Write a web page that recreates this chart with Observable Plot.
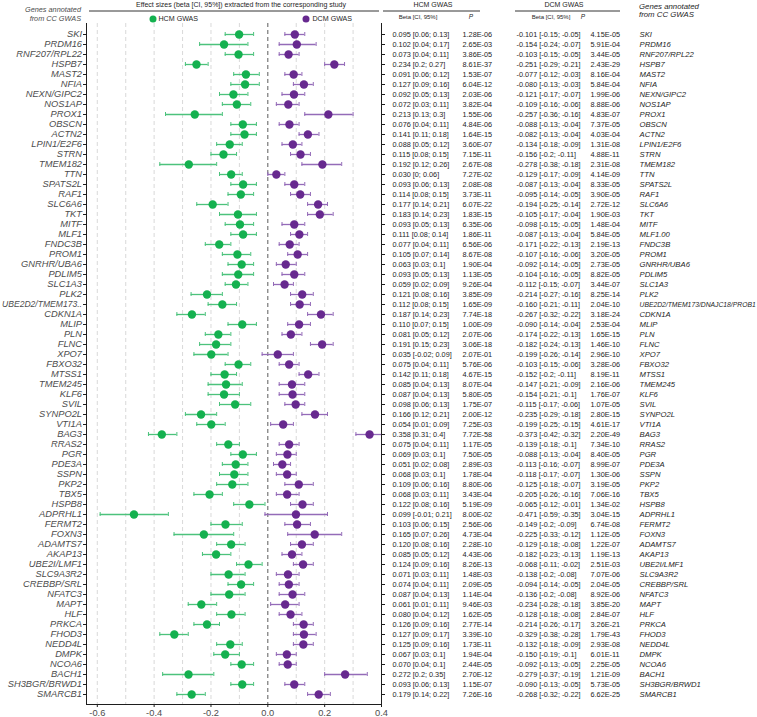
<!DOCTYPE html>
<html>
<head>
<meta charset="utf-8">
<script src="https://cdn.jsdelivr.net/npm/d3@7"></script>
<script src="https://cdn.jsdelivr.net/npm/@observablehq/plot@0.6"></script>
<style>
  body { margin: 0; background: #fff; }
  #fig { width: 757px; height: 717px; overflow: hidden; }
  #fig svg { display: block; overflow: visible; }
</style>
</head>
<body>
<div id="fig"></div>
<script>
// Gene labels on the forest axis (top to bottom)
const genes = [
  "SKI","PRDM16","RNF207/RPL22","HSPB7","MAST2","NFIA","NEXN/GIPC2","NOS1AP","PROX1","OBSCN",
  "ACTN2","LPIN1/E2F6","STRN","TMEM182","TTN","SPATS2L","RAF1","SLC6A6","TKT","MITF",
  "MLF1","FNDC3B","PROM1","GNRHR/UBA6","PDLIM5","SLC1A3","PLK2","UBE2D2/TMEM173..","CDKN1A","MLIP",
  "PLN","FLNC","XPO7","FBXO32","MTSS1","TMEM245","KLF6","SVIL","SYNPO2L","VTI1A",
  "BAG3","RRAS2","PGR","PDE3A","SSPN","PKP2","TBX5","HSPB8","ADPRHL1","FERMT2",
  "FOXN3","ADAMTS7","AKAP13","UBE2I/LMF1","SLC9A3R2","CREBBP/SRL","NFATC3","MAPT","HLF","PRKCA",
  "FHOD3","NEDD4L","DMPK","NCOA6","BACH1","SH3BGR/BRWD1","SMARCB1"
];
// Gene names in the right-hand table column
const genesAnnotated = [
  "SKI","PRDM16","RNF207/RPL22","HSPB7","MAST2","NFIA","NEXN/GIPC2","NOS1AP","PROX1","OBSCN",
  "ACTN2","LPIN1/E2F6","STRN","TMEM182","TTN","SPATS2L","RAF1","SLC6A6","TKT","MITF",
  "MLF1.00","FNDC3B","PROM1","GNRHR/UBA6","PDLIM5","SLC1A3","PLK2","UBE2D2/TMEM173/DNAJC18/PROB1","CDKN1A","MLIP",
  "PLN","FLNC","XPO7","FBXO32","MTSS1","TMEM245","KLF6","SVIL","SYNPO2L","VTI1A",
  "BAG3","RRAS2","PGR","PDE3A","SSPN","PKP2","TBX5","HSPB8","ADPRHL1","FERMT2",
  "FOXN3","ADAMTS7","AKAP13","UBE2I/LMF1","SLC9A3R2","CREBBP/SRL","NFATC3","MAPT","HLF","PRKCA",
  "FHOD3","NEDD4L","DMPK","NCOA6","BACH1","SH3BGR/BRWD1","SMARCB1"
];

// HCM GWAS: beta, 95% CI bounds, P
const hcmBeta = [
  0.095,0.102,0.073,0.234,0.091,0.127,0.092,0.072,0.213,0.076,
  0.141,0.088,0.115,0.192,0.030,0.093,0.114,0.177,0.183,0.093,
  0.111,0.077,0.105,0.063,0.093,0.059,0.121,0.112,0.187,0.110,
  0.081,0.191,0.035,0.075,0.142,0.085,0.087,0.098,0.166,0.054,
  0.358,0.075,0.069,0.051,0.068,0.109,0.068,0.122,0.099,0.103,
  0.165,0.120,0.085,0.124,0.071,0.074,0.087,0.061,0.080,0.126,
  0.127,0.125,0.067,0.070,0.272,0.093,0.179
];
const hcmLo = [
  0.06,0.04,0.04,0.2,0.06,0.09,0.05,0.03,0.13,0.04,
  0.11,0.05,0.08,0.12,0,0.06,0.08,0.14,0.14,0.05,
  0.08,0.04,0.07,0.03,0.05,0.02,0.08,0.08,0.14,0.07,
  0.05,0.15,-0.02,0.04,0.11,0.04,0.04,0.06,0.12,0.01,
  0.31,0.04,0.03,0.02,0.03,0.06,0.03,0.08,-0.01,0.06,
  0.07,0.08,0.05,0.09,0.03,0.04,0.04,0.01,0.04,0.09,
  0.09,0.09,0.03,0.04,0.2,0.06,0.14
];
const hcmHi = [
  0.13,0.17,0.11,0.27,0.12,0.16,0.13,0.11,0.3,0.11,
  0.18,0.12,0.15,0.26,0.06,0.13,0.15,0.21,0.23,0.13,
  0.14,0.11,0.14,0.1,0.13,0.09,0.16,0.15,0.23,0.15,
  0.12,0.23,0.09,0.11,0.18,0.13,0.13,0.13,0.21,0.09,
  0.4,0.11,0.1,0.08,0.1,0.16,0.11,0.16,0.21,0.15,
  0.26,0.16,0.12,0.16,0.11,0.11,0.13,0.11,0.12,0.16,
  0.17,0.16,0.1,0.1,0.35,0.13,0.22
];
const hcmP = [
  1.28e-6,2.65e-3,3.86e-5,8.61e-37,1.53e-7,6.04e-12,2.03e-6,3.82e-4,1.55e-6,4.84e-6,
  1.64e-15,3.60e-7,7.15e-11,2.67e-8,7.27e-2,2.08e-8,3.73e-11,6.07e-22,1.83e-15,6.35e-6,
  1.86e-11,6.56e-6,8.67e-8,1.90e-4,1.13e-5,9.26e-4,3.85e-9,1.65e-9,7.74e-18,1.00e-9,
  2.07e-6,3.06e-18,2.07e-1,5.76e-6,4.67e-15,8.07e-4,5.80e-5,1.75e-7,2.00e-12,7.25e-3,
  7.72e-58,1.17e-5,7.50e-5,2.89e-3,1.78e-4,8.80e-6,3.43e-4,5.19e-9,8.00e-2,2.56e-6,
  4.73e-4,2.28e-10,4.43e-6,8.26e-13,1.48e-3,2.09e-5,1.14e-4,9.46e-3,1.62e-5,2.77e-14,
  3.39e-10,1.73e-11,1.94e-4,2.44e-5,2.70e-12,1.15e-7,7.26e-16
];

// DCM GWAS: beta, 95% CI bounds, P
const dcmBeta = [
  -0.101,-0.154,-0.103,-0.251,-0.077,-0.080,-0.121,-0.109,-0.257,-0.088,
  -0.082,-0.134,-0.156,-0.278,-0.129,-0.087,-0.095,-0.194,-0.105,-0.098,
  -0.087,-0.171,-0.107,-0.092,-0.104,-0.112,-0.214,-0.160,-0.267,-0.090,
  -0.174,-0.182,-0.199,-0.103,-0.152,-0.147,-0.154,-0.115,-0.235,-0.199,
  -0.373,-0.139,-0.088,-0.113,-0.118,-0.125,-0.205,-0.065,-0.471,-0.149,
  -0.225,-0.129,-0.182,-0.068,-0.138,-0.094,-0.136,-0.234,-0.128,-0.214,
  -0.329,-0.132,-0.150,-0.092,-0.279,-0.090,-0.268
];
const dcmLo = [
  -0.15,-0.24,-0.15,-0.29,-0.12,-0.13,-0.17,-0.16,-0.36,-0.13,
  -0.13,-0.18,-0.2,-0.38,-0.17,-0.13,-0.14,-0.25,-0.17,-0.15,
  -0.13,-0.22,-0.16,-0.14,-0.16,-0.15,-0.27,-0.21,-0.32,-0.14,
  -0.22,-0.24,-0.26,-0.15,-0.2,-0.21,-0.21,-0.17,-0.29,-0.25,
  -0.42,-0.18,-0.13,-0.16,-0.17,-0.18,-0.26,-0.12,-0.59,-0.2,
  -0.33,-0.18,-0.23,-0.11,-0.2,-0.14,-0.2,-0.28,-0.18,-0.26,
  -0.38,-0.18,-0.19,-0.13,-0.37,-0.13,-0.32
];
const dcmHi = [
  -0.05,-0.07,-0.05,-0.21,-0.03,-0.03,-0.07,-0.06,-0.16,-0.04,
  -0.04,-0.09,-0.11,-0.18,-0.09,-0.04,-0.05,-0.14,-0.04,-0.05,
  -0.04,-0.13,-0.06,-0.05,-0.05,-0.07,-0.16,-0.11,-0.22,-0.04,
  -0.13,-0.13,-0.14,-0.06,-0.11,-0.09,-0.1,-0.06,-0.18,-0.15,
  -0.32,-0.1,-0.04,-0.07,-0.07,-0.07,-0.16,-0.01,-0.35,-0.09,
  -0.12,-0.08,-0.13,-0.02,-0.08,-0.05,-0.08,-0.18,-0.08,-0.17,
  -0.28,-0.09,-0.1,-0.05,-0.19,-0.05,-0.22
];
const dcmP = [
  4.15e-5,5.91e-4,3.44e-5,2.43e-29,8.16e-4,5.84e-4,1.99e-6,8.88e-6,4.83e-7,7.37e-5,
  4.03e-4,1.31e-8,4.88e-11,2.31e-8,4.14e-9,8.33e-5,3.90e-5,2.72e-12,1.90e-3,1.48e-4,
  5.84e-5,2.19e-13,3.20e-5,2.73e-5,8.82e-5,3.44e-7,8.25e-14,2.04e-10,3.18e-24,2.53e-4,
  1.65e-15,1.46e-10,2.96e-10,3.28e-6,8.19e-11,2.16e-6,1.76e-7,1.07e-5,2.80e-15,4.61e-17,
  2.20e-49,7.34e-10,8.40e-5,8.99e-7,1.30e-6,3.19e-5,7.06e-16,1.34e-2,3.04e-15,6.74e-8,
  1.12e-5,1.22e-7,1.19e-13,2.51e-3,7.07e-6,2.04e-5,8.92e-6,3.85e-20,2.84e-7,3.26e-21,
  1.79e-43,2.93e-8,6.01e-11,2.25e-5,1.21e-9,5.73e-5,6.62e-25
];

const xTicks = [-0.6, -0.4, -0.2, 0, 0.2, 0.4];
const gridValues = [-0.6, -0.5, -0.4, -0.3, -0.2, -0.1, 0.1, 0.2, 0.3];

// ---- styling ----
const FONT = "'Liberation Sans', Arial, Helvetica, sans-serif";
const GREEN = "#14b14f", GREEN_BAR = "#4cc27c";
const PURPLE = "#67298f", PURPLE_BAR = "#946bb8";
const GREY = "#4d4d4d", INK = "#1e1e1e";

const rows = genes.map((gene, i) => ({
  gene, annotated: genesAnnotated[i],
  hb: hcmBeta[i], hl: hcmLo[i], hh: hcmHi[i], hp: hcmP[i],
  db: dcmBeta[i], dl: dcmLo[i], dh: dcmHi[i], dp: dcmP[i]
}));

const fmtP = p => {
  const [m, e] = p.toExponential(2).split("e");
  return `${m}E${e[0]}${e.slice(1).padStart(2, "0")}`;
};
const fmtBeta = (b, lo, hi) => `${b.toFixed(3)} [${lo}; ${hi}]`;

// table columns sit to the right of the forest frame (offsets from its right edge)
const col = {hcmBeta: 11, hcmP: 81, dcmBeta: 135, dcmP: 209, gene: 258};

const errorBars = (lo, hi, mid, dot, bar) => [
  Plot.ruleY(rows, {y: "gene", x1: lo, x2: hi, stroke: bar, strokeWidth: 1.3}),
  Plot.tickX(rows, {y: "gene", x: lo, stroke: bar, strokeWidth: 1}),
  Plot.tickX(rows, {y: "gene", x: hi, stroke: bar, strokeWidth: 1}),
  Plot.dot(rows, {y: "gene", x: mid, r: 4.2, fill: dot, stroke: "none"})
];

const tableText = (dx, text, extra = {}) =>
  Plot.text(rows, {
    y: "gene", frameAnchor: "right", dx, textAnchor: "start",
    text, fontSize: 7.3, fill: INK, ...extra
  });

const svgNode = Plot.plot({
  width: 757,
  height: 717,
  marginLeft: 86,
  marginRight: 376,
  marginTop: 23,
  marginBottom: 13,
  style: {fontFamily: FONT, background: "#fff", color: INK, overflow: "visible"},
  x: {domain: [-0.638, 0.4]},
  y: {type: "band", domain: genes, paddingInner: 0.6, paddingOuter: 0.4},
  marks: [
    Plot.ruleX(gridValues, {stroke: "#cfcfcf", strokeWidth: 0.8, strokeDasharray: "4,3"}),
    Plot.ruleX([0], {stroke: "#4a4a4a", strokeWidth: 0.9, strokeDasharray: "4,3"}),

    // green: DCM columns, purple: HCM columns
    ...errorBars("dl", "dh", "db", GREEN, GREEN_BAR),
    ...errorBars("hl", "hh", "hb", PURPLE, PURPLE_BAR),

    Plot.frame({anchor: "left", stroke: INK}),
    Plot.frame({anchor: "bottom", stroke: INK}),
    Plot.frame({anchor: "right", stroke: INK}),
    Plot.axisY({anchor: "left", tickSize: 3, tickPadding: 1.5, fontSize: 9.3,
                fontStyle: "italic", fill: GREY, stroke: INK, label: null}),
    Plot.axisY({anchor: "right", tickSize: 3, tickFormat: () => "", stroke: INK, label: null}),
    Plot.axisX({ticks: xTicks, tickFormat: d => d.toFixed(1), tickSize: 3, tickPadding: 2,
                fontSize: 9.3, fill: GREY, stroke: INK, label: null}),

    // table
    tableText(col.hcmBeta, d => fmtBeta(d.hb, d.hl, d.hh)),
    tableText(col.hcmP, d => fmtP(d.hp)),
    tableText(col.dcmBeta, d => fmtBeta(d.db, d.dl, d.dh)),
    tableText(col.dcmP, d => fmtP(d.dp)),
    tableText(col.gene, "annotated", {fontStyle: "italic", fontSize: 7.7})
  ]
});

// header band above the frame
const svg = d3.select(svgNode);
svg.selectAll('g[aria-label="y-axis tick label"] text').attr("font-style", "italic");

const head = svg.append("g").attr("font-family", FONT);
const txt = (x, y, s, size, opts = {}) =>
  head.append("text")
    .attr("x", x).attr("y", y).attr("dy", "0.35em")
    .attr("font-size", size)
    .attr("text-anchor", opts.anchor || "start")
    .attr("font-style", opts.italic ? "italic" : null)
    .attr("fill", opts.fill || INK)
    .text(s);
const hline = (x1, x2, y) =>
  head.append("line").attr("x1", x1).attr("x2", x2).attr("y1", y).attr("y2", y)
    .attr("stroke", INK).attr("stroke-width", 0.9);

// left column heading
txt(81, 9.3, "Genes annotated", 7.3, {anchor: "end", italic: true, fill: GREY});
txt(81, 18.3, "from CC GWAS", 7.3, {anchor: "end", italic: true, fill: GREY});

// forest heading + legend
txt(241, 4.3, "Effect sizes (beta [CI, 95%]) extracted from the corresponding study", 7, {anchor: "middle"});
hline(89, 379, 11);
head.append("circle").attr("cx", 153).attr("cy", 19).attr("r", 3.5).attr("fill", GREEN);
txt(158.5, 19, "HCM GWAS", 7.1);
head.append("circle").attr("cx", 306).attr("cy", 19).attr("r", 3.5).attr("fill", PURPLE);
txt(312.5, 19, "DCM GWAS", 7.1);

// table headings
txt(433, 5, "HCM GWAS", 7, {anchor: "middle"});
hline(383, 480, 11);
txt(418, 16.5, "Beta [CI, 95%]", 6, {anchor: "middle"});
txt(471, 16.5, "P", 6.5, {anchor: "middle", italic: true});

txt(564, 5, "DCM GWAS", 7, {anchor: "middle"});
hline(515, 620, 11);
txt(551, 16.5, "Beta [CI, 95%]", 6, {anchor: "middle"});
txt(583, 16.5, "P", 6.5, {anchor: "middle", italic: true});

txt(639, 6.3, "Genes annotated", 7.8, {italic: true});
txt(639, 14.6, "from CC GWAS", 7.8, {italic: true});

document.getElementById("fig").append(svgNode);

// shrink any long gene label so it stays inside the page
const fitText = (sel, maxWidth) => sel.each(function () {
  const len = this.getComputedTextLength();
  if (len > maxWidth) {
    const fs = parseFloat(getComputedStyle(this).fontSize);
    this.setAttribute("font-size", (fs * maxWidth / len).toFixed(2));
    this.style.fontSize = (fs * maxWidth / len).toFixed(2) + "px";
  }
});
fitText(svg.selectAll('g[aria-label="y-axis tick label"] text'), 80);
fitText(svg.selectAll('g[aria-label="text"]').filter((d, i, n) => i === n.length - 1).selectAll("text"), 116);
</script>
</body>
</html>
